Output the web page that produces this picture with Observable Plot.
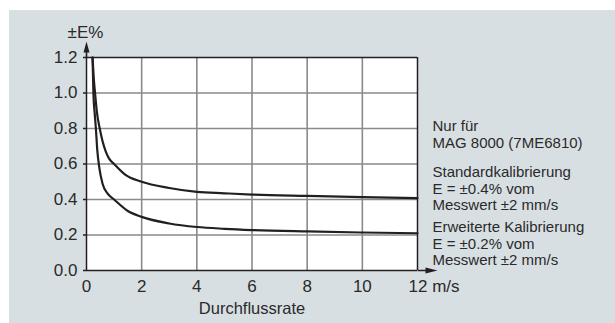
<!DOCTYPE html>
<html>
<head>
<meta charset="utf-8">
<script src="https://cdn.jsdelivr.net/npm/d3@7"></script>
<script src="https://cdn.jsdelivr.net/npm/@observablehq/plot@0.6"></script>
<style>
  html, body { margin: 0; padding: 0; background: #ffffff; }
  #wrap { position: relative; width: 615px; height: 323px; overflow: hidden; }
  #bg { position: absolute; left: 9px; top: 10px; right: 0; bottom: 0; background: #d8dfe3; }
  #chart { position: absolute; left: 0; top: 0; }
</style>
</head>
<body>
<div id="wrap"><div id="bg"></div><div id="chart"></div></div>
<script>
// ---- data ----
const xTicks = [0, 2, 4, 6, 8, 10, 12];
const xTickLabels = ["0", "2", "4", "6", "8", "10", "12 m/s"];
const yTicks = [0, 0.2, 0.4, 0.6, 0.8, 1.0, 1.2];
const yTickLabels = ["0.0", "0.2", "0.4", "0.6", "0.8", "1.0", "1.2"];
const xLabel = "Durchflussrate";
const yLabel = "±E%";

// Standardkalibrierung (upper curve)
const upperX = [0.22, 0.26, 0.31, 0.38, 0.48, 0.58, 0.7, 0.82, 1.0, 1.4, 2, 3, 4, 5, 6, 8, 10, 12];
const upperY = [1.2, 1.09, 1.0, 0.89, 0.8, 0.73, 0.67, 0.63, 0.6, 0.54, 0.5, 0.465, 0.443, 0.435, 0.428, 0.42, 0.413, 0.408];
// Erweiterte Kalibrierung (lower curve)
const lowerX = [0.22, 0.25, 0.3, 0.34, 0.39, 0.46, 0.58, 0.76, 1.0, 1.5, 2, 3, 4, 5, 6, 8, 10, 12];
const lowerY = [1.2, 1.0, 0.88, 0.8, 0.68, 0.584, 0.49, 0.434, 0.4, 0.335, 0.302, 0.265, 0.245, 0.235, 0.228, 0.22, 0.214, 0.21];

const notes = [
  "Nur für\nMAG 8000 (7ME6810)",
  "Standardkalibrierung\nE = ±0.4% vom\nMesswert ±2 mm/s",
  "Erweiterte Kalibrierung\nE = ±0.2% vom\nMesswert ±2 mm/s"
];

// ---- build ----
const upper = upperX.map((x, i) => ({x, y: upperY[i]}));
const lower = lowerX.map((x, i) => ({x, y: lowerY[i]}));

const arrowUp = {
  draw(ctx) {
    ctx.moveTo(-0.8, 0); ctx.lineTo(-0.8, -5); ctx.lineTo(-3, -5);
    ctx.lineTo(0, -16); ctx.lineTo(3, -5); ctx.lineTo(0.8, -5);
    ctx.lineTo(0.8, 0); ctx.closePath();
  }
};
const arrowRight = {
  draw(ctx) {
    ctx.moveTo(0, -0.8); ctx.lineTo(8, -0.8); ctx.lineTo(8, -3);
    ctx.lineTo(20, 0); ctx.lineTo(8, 3); ctx.lineTo(8, 0.8);
    ctx.lineTo(0, 0.8); ctx.closePath();
  }
};

const gridColor = "#8a8a8a";
const ink = "#231f20";
const textInk = "#2a2a2a";
const font = "'Liberation Sans', Arial, Helvetica, sans-serif";

const chart = Plot.plot({
  width: 615,
  height: 323,
  marginLeft: 86,
  marginRight: 198,
  marginTop: 57,
  marginBottom: 53,
  style: {background: "transparent", fontFamily: font, fontSize: "15px", color: ink, overflow: "visible"},
  x: {domain: [xTicks[0], xTicks[xTicks.length - 1]], axis: null},
  y: {domain: [yTicks[0], yTicks[yTicks.length - 1]], axis: null},
  marks: [
    Plot.frame({fill: "white", stroke: "none"}),
    Plot.gridX(xTicks.slice(1, -1), {stroke: gridColor, strokeOpacity: 1, strokeWidth: 1.6}),
    Plot.gridY(yTicks.slice(1, -1), {stroke: gridColor, strokeOpacity: 1, strokeWidth: 1.6}),
    Plot.ruleY([yTicks[yTicks.length - 1]], {stroke: ink, strokeWidth: 1.5}),
    Plot.ruleX([xTicks[xTicks.length - 1]], {stroke: ink, strokeWidth: 1.5}),
    Plot.line(upper, {x: "x", y: "y", stroke: ink, strokeWidth: 2.2, curve: "monotone-x"}),
    Plot.line(lower, {x: "x", y: "y", stroke: ink, strokeWidth: 2.2, curve: "monotone-x"}),
    Plot.ruleX([xTicks[0]], {stroke: ink, strokeWidth: 1.5}),
    Plot.ruleY([yTicks[0]], {stroke: ink, strokeWidth: 1.5}),
    Plot.axisY(yTicks, {
      tickSize: 3, tickPadding: 6, stroke: ink, strokeWidth: 1.5,
      tickFormat: d => yTickLabels[yTicks.indexOf(d)],
      fontSize: 17, fill: textInk, label: null
    }),
    Plot.axisX(xTicks.slice(0, -1), {
      tickSize: 0, tickPadding: 9,
      tickFormat: d => xTickLabels[xTicks.indexOf(d)],
      fontSize: 17, fill: textInk, label: null
    }),
    Plot.text([xTickLabels[xTickLabels.length - 1]], {
      x: () => xTicks[xTicks.length - 1], y: () => yTicks[0],
      text: d => d, textAnchor: "start", lineAnchor: "top", dx: -9, dy: 9,
      fontSize: 17, fill: textInk
    }),
    Plot.text([xLabel], {
      frameAnchor: "bottom", text: d => d, lineAnchor: "bottom", dy: 43,
      fontSize: 16.5, fill: textInk
    }),
    Plot.text([yLabel], {
      frameAnchor: "top-left", text: d => d, lineAnchor: "bottom", textAnchor: "middle",
      dy: -20, dx: -1, fontSize: 17, fill: textInk
    }),
    Plot.dot([0], {x: () => xTicks[0], y: () => yTicks[yTicks.length - 1], symbol: arrowUp, fill: ink, stroke: "none"}),
    Plot.dot([0], {x: () => xTicks[xTicks.length - 1], y: () => yTicks[0], symbol: arrowRight, fill: ink, stroke: "none"}),
    Plot.text([notes[0]], {frameAnchor: "top-right", text: d => d, textAnchor: "start", lineAnchor: "top",
      dx: 15, dy: 61.3, lineHeight: 1.15, fontSize: 15, fill: textInk}),
    Plot.text([notes[1]], {frameAnchor: "top-right", text: d => d, textAnchor: "start", lineAnchor: "top",
      dx: 15, dy: 107.3, lineHeight: 1.12, fontSize: 15, fill: textInk}),
    Plot.text([notes[2]], {frameAnchor: "top-right", text: d => d, textAnchor: "start", lineAnchor: "top",
      dx: 15, dy: 162.3, lineHeight: 1.12, fontSize: 15, fill: textInk})
  ]
});
document.getElementById("chart").appendChild(chart);
</script>
</body>
</html>
